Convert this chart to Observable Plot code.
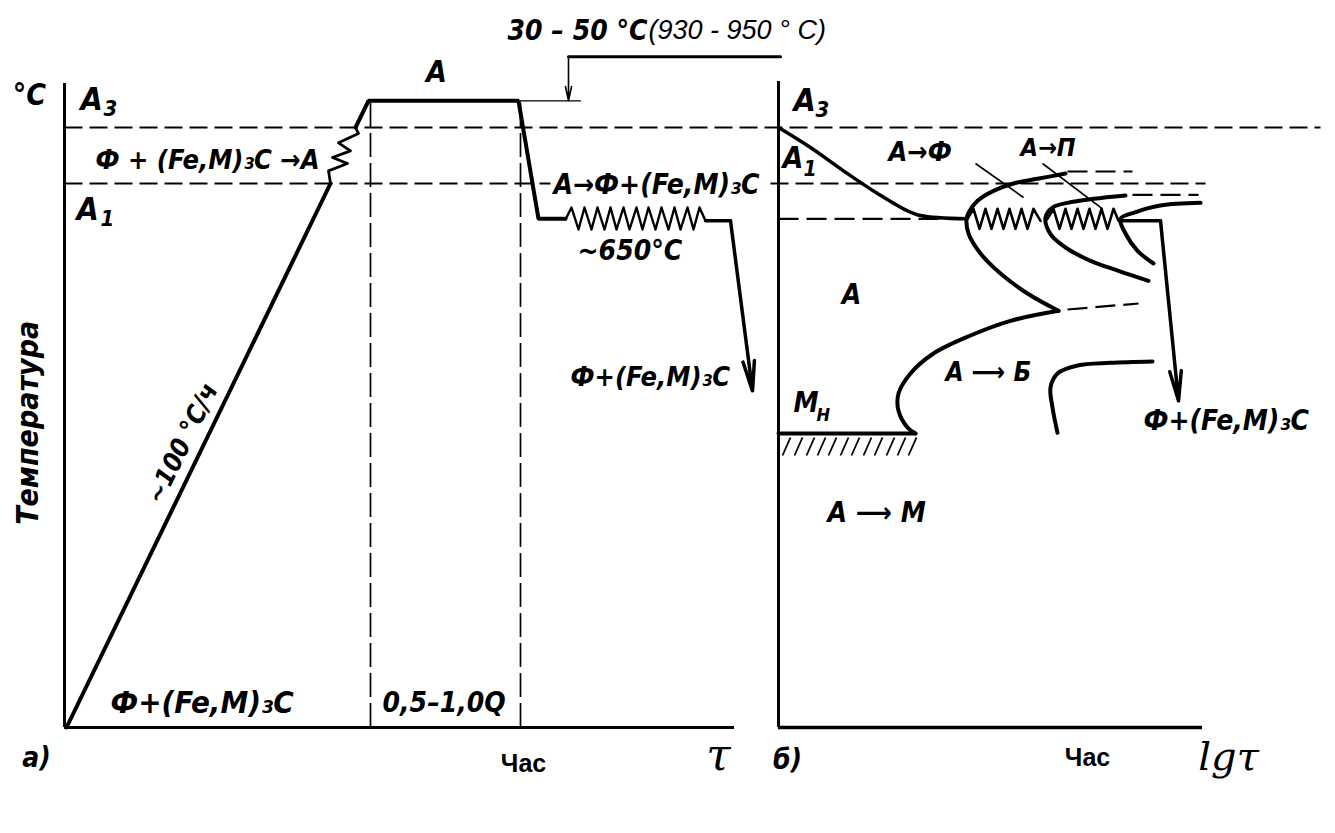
<!DOCTYPE html>
<html><head><meta charset="utf-8">
<script src="https://cdn.jsdelivr.net/npm/d3@7"></script>
<script src="https://cdn.jsdelivr.net/npm/@observablehq/plot@0.6"></script>
<style>
body{margin:0;background:#fff;}
#chart{width:1335px;height:833px;}
#chart svg{display:block;}
</style>
</head><body><div id="chart"></div>
<script>
// ---------- schematic data (x: time units, T: schematic temperature) ----------
const A3 = 900, A1 = 816, HOLD = 763, MS = 441;
const B0 = 71.4;               // origin of panel б on the shared time axis

// Panel а — annealing schedule
const rampTau = [0.2, 26.6];
const rampT   = [0, 816];
const austTau = [26.6, 26.4, 28.3, 26.8, 28.6, 27.4, 29.4, 29.1];
const austT   = [816, 835, 846, 855, 865, 877, 891, 900];
const soakTau = [29.1, 30.4, 45.4, 47.4, 50.1];
const soakT   = [900, 940, 940, 763, 763];
const holdTau = [50.1,50.7,51.4,52.0,52.7,53.3,54.0,54.6,55.2,55.9,56.5,57.2,57.8,58.4,59.1,59.7,60.4,61.0,61.6,62.3,62.9,63.5,64.1];
const holdT   = [762,780,747,780,747,780,747,780,747,780,747,780,747,780,747,780,747,780,747,780,747,780,760];
const exitTau = [64.1, 66.6];
const exitT   = [760, 760];
const coolA   = {x1: 66.6, y1: 760, x2: 68.8, y2: 505};
const soakEdges = [30.6, 45.6];          // dashed verticals
const soakTop = 940;
const bracketTau = [50.4, 71.6], bracketT = 1006;
const pointerA = {x1: 50.4, y1: 1006, x2: 50.4, y2: 940};
const topExtTau = [45.4, 51.6];
const a3Span = [[0, 125.6]];
const a1Spans = [[0, 48.6], [70.6, 114.1]];   // interrupted by the label

// Panel б — isothermal diagram (lg τ from panel origin)
const startLg = [0, 3.2, 6.5, 9.9, 12.5, 14.2, 18.8];
const startT  = [900, 870, 835, 801, 778, 768, 763];
const ferLg = [28.7, 25.9, 23.5, 21.5, 19.9, 19.0, 18.8, 19.0, 20.2, 22.2, 24.9, 28.0];
const ferT  = [831, 823, 816, 805, 790, 772, 762, 741, 711, 681, 651, 625];
const baiLg = [28.0, 23.2, 19.2, 15.5, 13.2, 12.0, 12.0, 12.9, 13.7];
const baiT  = [625, 610, 588, 561, 531, 501, 475, 450, 441];
const msLg  = [13.7, 0];
const perLg = [34.7, 31.5, 28.9, 27.4, 26.7, 27.2, 28.7, 31.2, 34.0, 37.0];
const perT  = [798, 793, 787, 780, 765, 740, 720, 700, 685, 670];
const endLg = [42.2, 38.2, 35.5, 34.2, 34.7, 35.9, 37.5];
const endT  = [787, 783, 772, 763, 741, 715, 696];
const lowLg = [27.9, 27.4, 27.2, 27.9, 29.9, 33.2, 37.4];
const lowT  = [442, 480, 510, 531, 543, 547, 549];
const zig1Lg = [18.9,19.5,20.1,20.7,21.3,21.9,22.5,23.1,23.7,24.3,24.9,25.5,26.2];
const zig2Lg = [26.9,27.5,28.1,28.7,29.3,29.9,30.5,31.1,31.7,32.3,32.9,33.5,34.0];
const zigT   = [763,778,748,778,748,778,748,778,748,778,748,778,760];
const coolBLg = [34.2, 38.2], coolBT = [760, 760];
const coolB = {x1: 38.2, y1: 760, x2: 40.0, y2: 490};
const dashSegs = [
  {x1: 0,    y1: 763, x2: 18.5, y2: 763},
  {x1: 28.9, y1: 834, x2: 35.4, y2: 834},
  {x1: 35.4, y1: 799, x2: 42.0, y2: 799},
  {x1: 28.9, y1: 627, x2: 36.0, y2: 636}
];
const leaders = [
  {x1: 19.7, y1: 846, x2: 24.5, y2: 795},
  {x1: 26.4, y1: 846, x2: 32.4, y2: 778}
];
const hatchLg = [0.4, 1.6, 2.8, 3.9, 5.0, 6.2, 7.3, 8.5, 9.6, 10.8, 11.9, 13.0];
const hatchLow = 408, hatchHigh = 435;

// ---------- helpers ----------
const pts = (xs, ys, dx = 0) => xs.map((x, i) => ({x: x + dx, y: Array.isArray(ys) ? ys[i] : ys}));
const shiftB = o => ({x1: o.x1 + B0, y1: o.y1, x2: o.x2 + B0, y2: o.y2});
const spans = (list, T) => list.map(([a, b]) => ({x1: a, x2: b, y1: T, y2: T}));
const FONT = "'DejaVu Sans Condensed', 'Liberation Sans Narrow', sans-serif";
const lab = (text, x, y, size, o = {}) => Plot.text([{x, y, text}], {
  x: "x", y: "y", text: "text", fontSize: size, fontFamily: FONT, fontStyle: "italic", fontWeight: "bold",
  textAnchor: "start", fill: "black", ...o
});
const plain = (text, x, y, size, o = {}) => Plot.text([{x, y, text}], {
  x: "x", y: "y", text: "text", fontSize: size, fontFamily: "'Liberation Sans', Arial, sans-serif",
  textAnchor: "middle", fill: "black", ...o
});

const INK = "black";
const chart = Plot.plot({
  width: 1335, height: 833, margin: 0,
  x: {domain: [0, 67], range: [64, 734], axis: null},
  y: {domain: [0, 975], range: [727, 77], axis: null},
  style: {background: "white", overflow: "visible"},
  marks: [
    // dashed critical-point lines
    Plot.link(spans(a3Span, A3), {x1: "x1", y1: "y1", x2: "x2", y2: "y2", stroke: INK, strokeWidth: 1.8, strokeDasharray: "18,7"}),
    Plot.link(spans(a1Spans, A1), {x1: "x1", y1: "y1", x2: "x2", y2: "y2", stroke: INK, strokeWidth: 1.8, strokeDasharray: "18,7"}),
    Plot.ruleX(soakEdges, {y1: 0, y2: soakTop, stroke: INK, strokeWidth: 1.7, strokeDasharray: "24,6"}),
    Plot.link(dashSegs.map(shiftB), {x1: "x1", y1: "y1", x2: "x2", y2: "y2", stroke: INK, strokeWidth: 2.2, strokeDasharray: "20,8"}),

    // axes
    Plot.ruleX([0], {y1: 0, y2: 966, stroke: INK, strokeWidth: 3}),
    Plot.ruleY([0], {x1: 0, x2: 67, stroke: INK, strokeWidth: 3}),
    Plot.ruleX([B0], {y1: 0, y2: 969, stroke: INK, strokeWidth: 3}),
    Plot.ruleY([0], {x1: B0, x2: B0 + 42.4, stroke: INK, strokeWidth: 3.5}),

    // panel а schedule
    Plot.line(pts(rampTau, rampT), {x: "x", y: "y", stroke: INK, strokeWidth: 4}),
    Plot.line(pts(austTau, austT), {x: "x", y: "y", stroke: INK, strokeWidth: 2.8}),
    Plot.line(pts(soakTau, soakT), {x: "x", y: "y", stroke: INK, strokeWidth: 4, strokeLinejoin: "miter"}),
    Plot.line(pts(holdTau, holdT), {x: "x", y: "y", stroke: INK, strokeWidth: 2.4}),
    Plot.line(pts(exitTau, exitT), {x: "x", y: "y", stroke: INK, strokeWidth: 3.5}),
    Plot.arrow([coolA], {x1: "x1", y1: "y1", x2: "x2", y2: "y2", stroke: INK, strokeWidth: 3.5, headLength: 13, headAngle: 22}),
    Plot.line(pts(topExtTau, soakTop), {x: "x", y: "y", stroke: INK, strokeWidth: 1.3}),
    Plot.line(pts(bracketTau, bracketT), {x: "x", y: "y", stroke: INK, strokeWidth: 3}),
    Plot.arrow([pointerA], {x1: "x1", y1: "y1", x2: "x2", y2: "y2", stroke: INK, strokeWidth: 1.6, headLength: 20, headAngle: 24}),

    // panel б curves
    Plot.line(pts(startLg, startT, B0), {x: "x", y: "y", stroke: INK, strokeWidth: 3.5, curve: "catmull-rom"}),
    Plot.line(pts(ferLg, ferT, B0), {x: "x", y: "y", stroke: INK, strokeWidth: 4, curve: "catmull-rom"}),
    Plot.line(pts(baiLg, baiT, B0), {x: "x", y: "y", stroke: INK, strokeWidth: 4, curve: "catmull-rom"}),
    Plot.line(pts(msLg, MS, B0), {x: "x", y: "y", stroke: INK, strokeWidth: 4}),
    Plot.line(pts(perLg, perT, B0), {x: "x", y: "y", stroke: INK, strokeWidth: 4, curve: "catmull-rom"}),
    Plot.line(pts(endLg, endT, B0), {x: "x", y: "y", stroke: INK, strokeWidth: 4, curve: "catmull-rom"}),
    Plot.line(pts(lowLg, lowT, B0), {x: "x", y: "y", stroke: INK, strokeWidth: 4, curve: "catmull-rom"}),
    Plot.line(pts(zig1Lg, zigT, B0), {x: "x", y: "y", stroke: INK, strokeWidth: 2.6}),
    Plot.line(pts(zig2Lg, zigT, B0), {x: "x", y: "y", stroke: INK, strokeWidth: 2.6}),
    Plot.line(pts(coolBLg, coolBT, B0), {x: "x", y: "y", stroke: INK, strokeWidth: 3.5}),
    Plot.arrow([shiftB(coolB)], {x1: "x1", y1: "y1", x2: "x2", y2: "y2", stroke: INK, strokeWidth: 3.5, headLength: 13, headAngle: 22}),
    Plot.link(leaders.map(shiftB), {x1: "x1", y1: "y1", x2: "x2", y2: "y2", stroke: INK, strokeWidth: 1.6}),
    Plot.link(hatchLg.map(h => ({x1: h + B0, y1: hatchLow, x2: h + B0 + 0.8, y2: hatchHigh})), {x1: "x1", y1: "y1", x2: "x2", y2: "y2", stroke: INK, strokeWidth: 1.8}),

    // panel а labels
    lab("°C", -3.5, 948, 30, {textAnchor: "middle"}),
    lab("А", 1.6, 942, 32),
    lab("3", 3.9, 928, 22),
    lab("Ф + (Fe,M)₃C →А", 3.1, 850, 27),
    lab("А", 1.2, 777, 32),
    lab("1", 3.6, 763, 22),
    lab("А", 37.2, 982, 30, {textAnchor: "middle"}),
    lab("30 – 50 °C", 44.3, 1045, 28),
    plain("(930 - 950 ° C)", 58.4, 1045, 27, {textAnchor: "start", fontStyle: "italic"}),
    lab("А→Ф+(Fe,M)₃C", 48.9, 813, 28),
    lab("~650°C", 51.3, 715, 28),
    lab("Ф+(Fe,M)₃C", 50.6, 525, 27),
    lab("~100 °C/ч", 11.8, 426, 26, {textAnchor: "middle", rotate: -64}),
    lab("Температура", -3.6, 457, 30, {textAnchor: "middle", rotate: -90}),
    lab("Ф+(Fe,M)₃C", 4.6, 36, 31),
    lab("0,5–1,0Q", 31.8, 36, 28),
    lab("а)", -2.8, -46, 28, {textAnchor: "middle"}),
    plain("Час", 45.9, -54, 25, {fontWeight: "bold"}),
    Plot.text([{x: 65.4, y: -43, text: "τ"}], {x: "x", y: "y", text: "text", fontSize: 44, fontStyle: "italic", fontFamily: "'DejaVu Serif', serif", textAnchor: "middle", fill: INK}),

    // panel б labels
    lab("А", B0 + 1.5, 940, 32),
    lab("3", B0 + 3.7, 927, 22),
    lab("А", B0 + 0.4, 853, 30),
    lab("1", B0 + 2.5, 838, 21),
    lab("А→Ф", B0 + 11.0, 862, 27),
    lab("А→П", B0 + 24.2, 870, 25),
    lab("А", B0 + 7.3, 649, 28, {textAnchor: "middle"}),
    lab("М", B0 + 1.5, 487, 28),
    lab("Н", B0 + 3.8, 469, 18),
    lab("А ⟶ Б", B0 + 16.7, 532, 26),
    lab("Ф+(Fe,M)₃C", B0 + 36.5, 459, 28),
    lab("А ⟶ М", B0 + 4.9, 322, 28),
    lab("б)", B0 + 0.9, -49, 28, {textAnchor: "middle"}),
    plain("Час", B0 + 30.9, -45, 25, {fontWeight: "bold"}),
    Plot.text([{x: B0 + 45.0, y: -45, text: "lgτ"}], {x: "x", y: "y", text: "text", fontSize: 40, fontStyle: "italic", fontFamily: "'DejaVu Serif', serif", textAnchor: "middle", fill: INK})
  ]
});
document.getElementById("chart").append(chart);
</script>
</body></html>
